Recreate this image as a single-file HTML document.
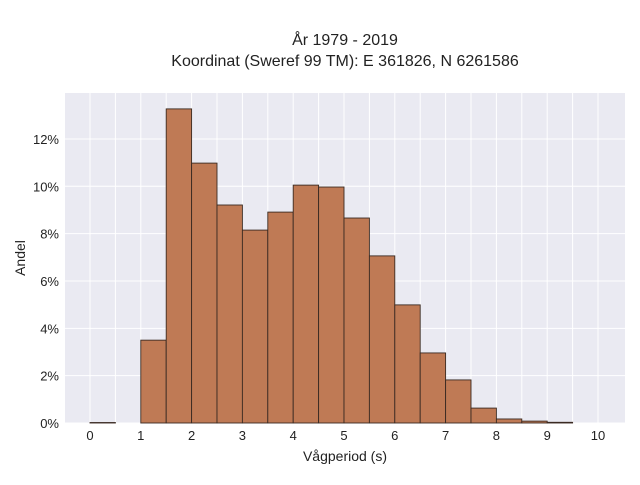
<!DOCTYPE html>
<html><head><meta charset="utf-8"><style>
body{margin:0;background:#fff;font-family:"Liberation Sans",sans-serif}
</style></head><body>
<svg id="chart" width="640" height="480" xmlns="http://www.w3.org/2000/svg">
<text x="345" y="45" text-anchor="middle" font-size="16" fill="#222">År 1979 - 2019</text>
<text x="345" y="66" text-anchor="middle" font-size="16" fill="#222">Koordinat (Sweref 99 TM): E 361826, N 6261586</text>
<rect x="65" y="93" width="560" height="330" fill="#eaeaf2"/>
<g id="grid"></g>
<g id="bars"></g>
<g id="axes"></g>
<text x="345" y="461" text-anchor="middle" font-size="14" fill="#222">Vågperiod (s)</text>
<text x="25" y="258" text-anchor="middle" font-size="14" fill="#222" transform="rotate(-90 25 258)">Andel</text>
</svg>
<script>
const binStarts=[0,0.5,1,1.5,2,2.5,3,3.5,4,4.5,5,5.5,6,6.5,7,7.5,8,8.5,9];
const shares=[0.02,0,3.5,13.27,10.98,9.21,8.15,8.91,10.05,9.97,8.66,7.06,4.99,2.96,1.82,0.63,0.17,0.08,0.03];
const xTicks=[0,1,2,3,4,5,6,7,8,9,10];
const yTicks=[0,2,4,6,8,10,12];
const binWidth=0.5;
const NS="http://www.w3.org/2000/svg";
function X(v){return 90+v*50.8;}
function Y(v){return 423-v*23.67;}
function mk(t,a,p){const e=document.createElementNS(NS,t);for(const k in a)e.setAttribute(k,a[k]);p.appendChild(e);return e;}
const grid=document.getElementById('grid'),bars=document.getElementById('bars'),axes=document.getElementById('axes');
for(let v=0;v<=10;v+=0.5){const l=mk('line',{x1:X(v),x2:X(v),y1:93,y2:423,stroke:'#fff','stroke-width':1},grid);

}
yTicks.forEach(t=>{const l=mk('line',{x1:65,x2:625,y1:Y(t),y2:Y(t),stroke:'#fff','stroke-width':1},grid);


const tx=mk('text',{x:59,y:Y(t)+5,'text-anchor':'end','font-size':13,fill:'#222'},axes);tx.textContent=t+'%';

});
xTicks.forEach(t=>{const tx=mk('text',{x:X(t),y:440,'text-anchor':'middle','font-size':13,fill:'#222'},axes);tx.textContent=t;

});
binStarts.forEach((s,i)=>{const v=shares[i];
const r=mk('rect',{x:X(s),y:Y(v),width:X(s+binWidth)-X(s),height:Y(0)-Y(v),fill:'#bf7a55',stroke:'#3a2a22','stroke-width':0.9},bars);

});
</script>
</body></html>
